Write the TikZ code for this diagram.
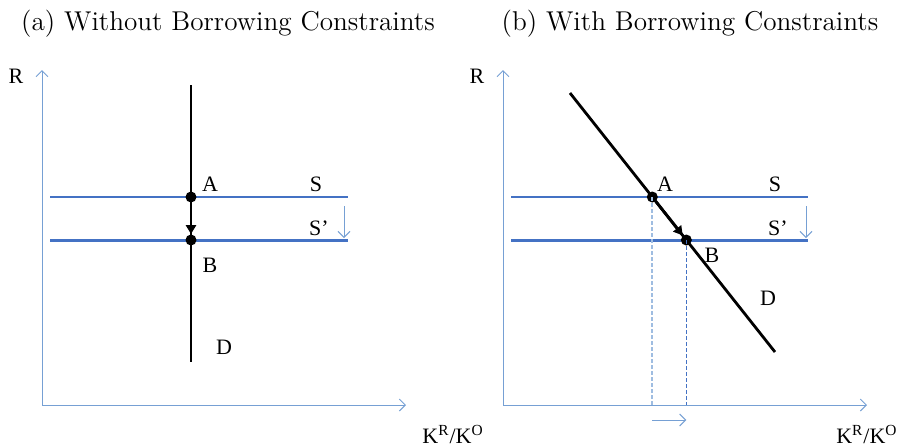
\documentclass[tikz,border=0pt]{standalone}
\usepackage{fontspec}
\newfontfamily\tnr{Liberation Serif}
\usepackage{tikz}
\usetikzlibrary{arrows.meta,positioning,calc}
\definecolor{axisBlue}{RGB}{118,160,212}
\definecolor{lineBlue}{RGB}{68,114,196}

\tikzset{
  axis/.style={draw=axisBlue, line width=0.5pt, -{Straight Barb[length=3pt,width=6pt]}},
  supply/.style={draw=lineBlue, line width=0.6pt},
  supplynew/.style={draw=lineBlue, line width=1.5pt},
  demand/.style={draw=black, line width=1.4pt},
  eqpoint/.style={circle, fill=black, inner sep=0pt, minimum size=5.5pt},
  lbl/.style={font=\tnr\fontsize{11pt}{13pt}\selectfont, inner sep=1pt},
  title/.style={font=\fontsize{13.6pt}{16pt}\selectfont, inner sep=1pt},
  movearrow/.style={draw=black, line width=1.4pt, -{Triangle[length=4.5pt,width=5pt]}},
  guidelight/.style={draw=axisBlue!70, line width=0.9pt, dash pattern=on 2pt off 1pt},
  guidedark/.style={draw=lineBlue, line width=0.5pt, dash pattern=on 2pt off 1pt},
}

\begin{document}
\begin{tikzpicture}[x=0.5pt, y=-0.5pt]
\useasboundingbox (0,0) rectangle (901,447);

% titles
\node[title] (titleA) at (228,24) {(a) Without Borrowing Constraints};
\node[title] (titleB) at (690,24) {(b) With Borrowing Constraints};

% ---- panel (a)
\coordinate (oA) at (42,405);
\coordinate (yA) at (42,70);
\coordinate (xA) at (406,405);
\draw[axis] (oA) -- (yA);
\draw[axis] (oA) -- (xA);
\node[lbl] (rA) at (16,76) {R};
\node[lbl, anchor=base west] (kA) at (420,443) {K\textsuperscript{R}/K\textsuperscript{O}};

\coordinate (sLA) at (50,197);
\coordinate (sRA) at (348,197);
\coordinate (snLA) at (50,240);
\coordinate (snRA) at (348,240);
\draw[supply] (sLA) -- (sRA);
\draw[supplynew] (snLA) -- (snRA);

\coordinate (dTA) at (191,85);
\coordinate (dBA) at (191,362);
\draw[demand] (dTA) -- (dBA);

\node[eqpoint] (ptA) at (191,197) {};
\node[eqpoint] (ptB) at (191,240) {};
\draw[movearrow] (ptA) -- (ptB);

\node[lbl] (lblA) at (210,184) {A};
\node[lbl] (lblB) at (210,265) {B};
\node[lbl] (lblS) at (316,184) {S};
\node[lbl] (lblSn) at (319,228) {S’};
\node[lbl] (lblD) at (224,347) {D};

\coordinate (dnTA) at (344,206);
\coordinate (dnBA) at (344,238);
\draw[axis] (dnTA) -- (dnBA);

% ---- panel (b)
\coordinate (oB) at (503,405);
\coordinate (yB) at (503,70);
\coordinate (xB) at (867,405);
\draw[axis] (oB) -- (yB);
\draw[axis] (oB) -- (xB);
\node[lbl] (rB) at (477,76) {R};
\node[lbl, anchor=base east] (kB) at (900,443) {K\textsuperscript{R}/K\textsuperscript{O}};

\coordinate (sLB) at (511,197);
\coordinate (sRB) at (808,197);
\coordinate (snLB) at (511,240);
\coordinate (snRB) at (808,240);
\draw[supply] (sLB) -- (sRB);
\draw[supplynew] (snLB) -- (snRB);

\coordinate (dTB) at (570,93);
\coordinate (dBB) at (775,352);
\draw[demand] (dTB) -- (dBB);

\node[eqpoint] (qtA) at ($(dTB)!0.4015!(dBB)$) {};
\node[eqpoint] (qtB) at ($(dTB)!0.5676!(dBB)$) {};
\draw[movearrow] (qtA) -- (qtB);

\draw[guidelight] (qtA.center) -- (qtA |- oB);
\draw[guidedark] (qtB.center) -- (qtB |- oB);
\coordinate (shL) at ($(qtA |- oB)+(0,15)$);
\coordinate (shR) at ($(qtB |- oB)+(0,15)$);
\draw[axis] (shL) -- (shR);

\node[lbl] (lblA2) at (665,184) {A};
\node[lbl] (lblB2) at (712,255) {B};
\node[lbl] (lblS2) at (775,184) {S};
\node[lbl] (lblSn2) at (778,228) {S’};
\node[lbl] (lblD2) at (768,298) {D};

\coordinate (dnTB) at (806,206);
\coordinate (dnBB) at (806,238);
\draw[axis] (dnTB) -- (dnBB);
\end{tikzpicture}
\end{document}
